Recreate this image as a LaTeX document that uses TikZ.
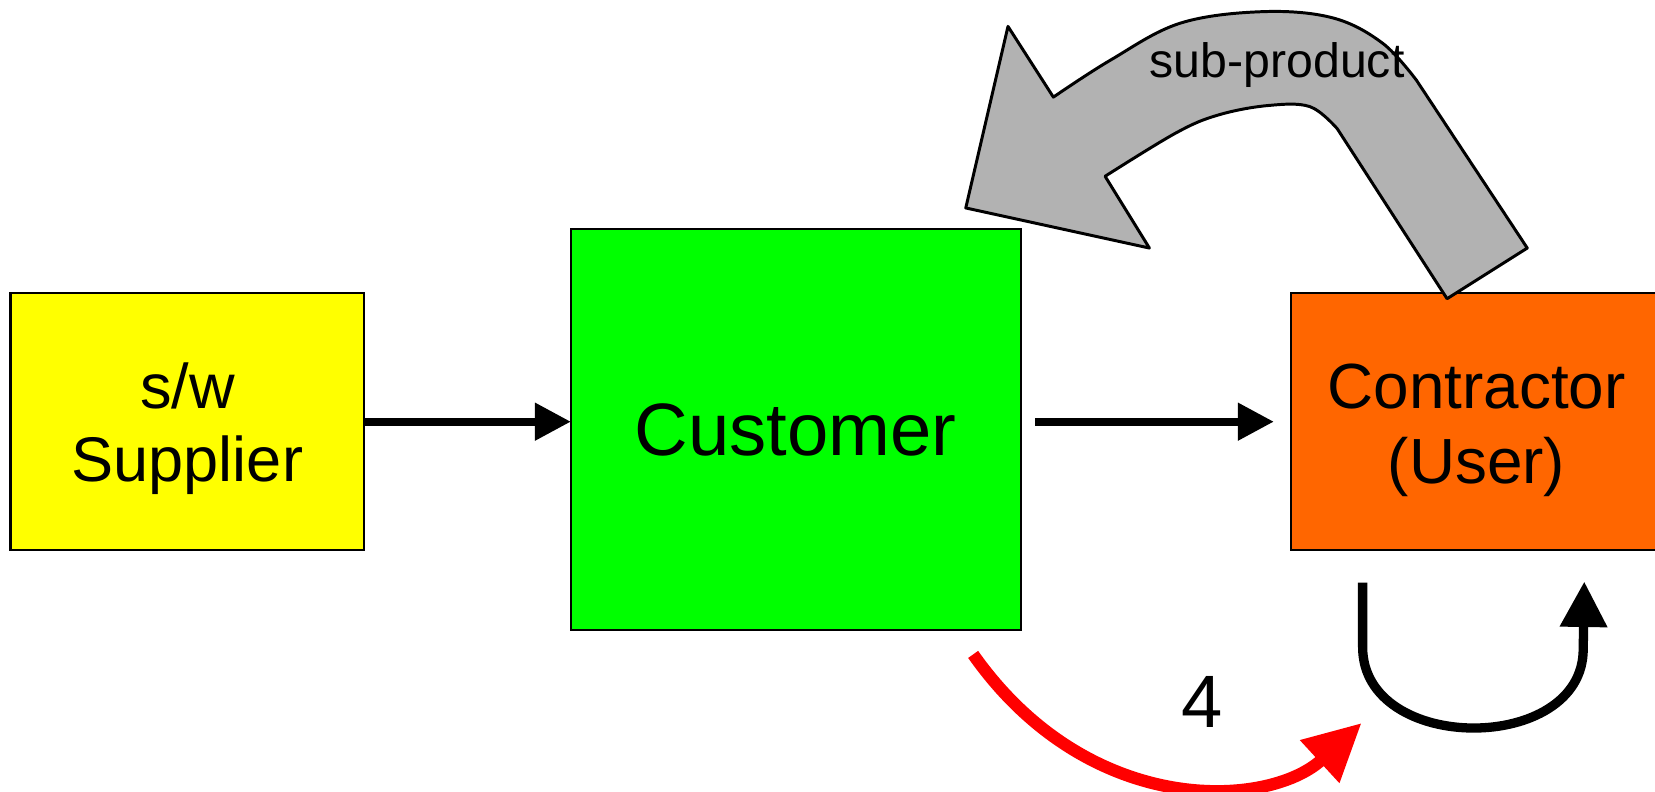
\documentclass[tikz,border=0pt]{standalone}
\usepackage{fontspec}
\setmainfont{Liberation Sans}
\usetikzlibrary{arrows.meta}
\definecolor{cyel}{HTML}{FFFF00}
\definecolor{cgreen}{HTML}{00FF00}
\definecolor{corange}{HTML}{FF6600}
\definecolor{cgray}{HTML}{B2B2B2}
\definecolor{cred}{HTML}{FF0000}
\begin{document}
\begin{tikzpicture}[x=0.01cm,y=-0.01cm,
  box/.style={draw=black, line width=0.6pt, inner sep=0pt, outer sep=0pt, align=center, text=black},
  flow/.style={line width=2.1pt, -{Triangle[length=0.34cm,width=0.34cm]}},
  loopflow/.style={line width=2.5pt, line join=round, -{Triangle[length=0.43cm,width=0.43cm]}},
  redflow/.style={draw=cred, line width=3.3pt, line join=round, -{Triangle[length=0.54cm,width=0.52cm]}},
  bigarrow/.style={fill=cgray, draw=black, line width=0.8pt, line join=round}]
\useasboundingbox (0,0) rectangle (1568,750);
\clip (0,0) rectangle (1568,750);

% boxes
\node[box, fill=cyel, minimum width=3.35cm, minimum height=2.43cm] (sup) at (177.5,399.5) {};
\node[align=center, inner sep=0pt, font=\fontsize{17}{19.6}\selectfont] (suptxt) at (177.5,406) {s/w\\Supplier};
\node[box, fill=cgreen, minimum width=4.26cm, minimum height=3.80cm,
      font=\fontsize{20}{24}\selectfont] (cus) at (754,407) {Customer};
\node[box, fill=corange, minimum width=3.52cm, minimum height=2.43cm] (con) at (1399,399.5) {};
\node[align=center, inner sep=0pt, font=\fontsize{17.2}{20.2}\selectfont] (contxt) at (1399,408) {Contractor\\(User)};

% big gray curved arrow (sub-product)
\path[bigarrow] (1447,235) -- (1342,76)
  -- plot[smooth, tension=0.6] coordinates {(1342,76) (1310,41) (1263,17) (1197,11) (1118,22) (1052,57) (998,92)}
  -- (955,25) -- (915,197) -- (1089,235) -- (1047,167)
  -- plot[smooth, tension=0.6] coordinates {(1047,167) (1114,126) (1154,109) (1201,100) (1241,101) (1267,122)}
  -- (1371,283) -- cycle;
\node[font=\fontsize{13}{15}\selectfont, anchor=base, inner sep=0pt] (sublbl) at (1210,73) {sub-product};

% straight flows
\draw[flow] (sup.east) -- (sup.east -| cus.west);
\coordinate (c2s) at (981,399.5);
\draw[flow] (c2s) -- ([xshift=-0.16cm]con.west);

% red arrow
\coordinate (rs) at (922,620);
\coordinate (re) at (1290,685);
\draw[redflow] (rs) .. controls (1032,776) and (1202,766) .. (re);
\node[font=\fontsize{20}{24}\selectfont, anchor=base, inner sep=0pt] (four) at (1139,689) {4};

% black loop arrow
\coordinate (bs) at (1291,552);
\coordinate (be) at (1501,551);
\draw[loopflow] (bs) -- (1291,613) .. controls (1291,715) and (1500,715) .. (1500,615) -- (be);
\end{tikzpicture}
\end{document}
